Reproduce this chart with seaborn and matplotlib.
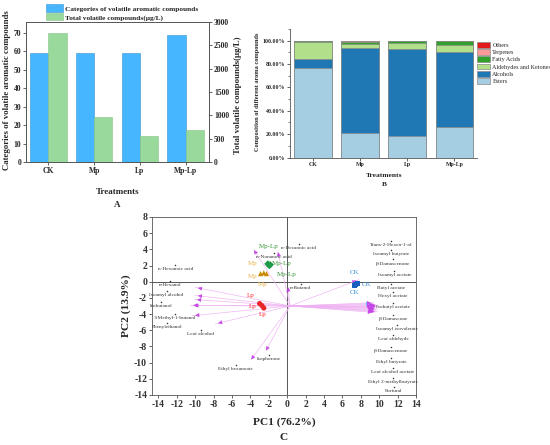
import numpy as np
import pandas as pd
import matplotlib
matplotlib.use("Agg")
import matplotlib.pyplot as plt
from matplotlib.patches import Patch
from matplotlib.ticker import PercentFormatter, MultipleLocator
import seaborn as sns

# ---- data: panel A ----
treatments = ["CK", "Mp", "Lp", "Mp-Lp"]
categories = [59, 59, 59, 69]
total_volatiles = [2770, 955, 550, 690]

# ---- data: panel B (percent composition) ----
classes = ["Esters", "Alcohols", "Aldehydes and Ketones", "Fatty Acids", "Terpenes", "Others"]
esters = [76.9, 21.4, 18.0, 26.2]
alcohols = [7.3, 72.0, 74.9, 64.1]
ald_ket = [14.9, 3.6, 4.8, 6.0]
fatty_acids = [0.6, 2.2, 1.8, 3.0]
terpenes = [0.2, 0.5, 0.3, 0.4]
others = [0.1, 0.3, 0.2, 0.3]

# ---- data: panel C (PCA biplot) ----
score_group = ["CK"] * 3 + ["Mp"] * 3 + ["Mp-Lp"] * 3 + ["Lp"] * 3
score_pc1 = [7.3, 7.45, 7.6, -2.9, -2.55, -2.25, -2.1, -1.95, -1.85, -3.0, -2.75, -2.55]
score_pc2 = [-0.5, -0.3, -0.2, 1.0, 1.1, 1.0, 2.2, 2.0, 2.1, -2.7, -2.95, -3.25]

score_label_group = ["CK", "CK", "CK", "Mp", "Mp", "Mp", "Mp-Lp", "Mp-Lp", "Mp-Lp", "Lp", "Lp", "Lp"]
score_label_x = [7.3, 8.6, 7.3, -3.8, -3.8, -2.7, -2.0, -0.6, -0.1, -4.0, -3.8, -2.7]
score_label_y = [1.2, -0.3, -1.3, 2.3, 0.7, -0.3, 4.4, 2.2, 0.9, -1.7, -3.05, -4.1]

loading_names = ["n-Hexanoic acid", "n-Hexanol", "Isoamyl alcohol", "Isobutanol",
                 "3-Methyl-1-butanol", "Phenylethanol", "Leaf alcohol", "Ethyl hexanoate",
                 "Isophorone", "n-Nonanoic acid", "n-Decanoic acid", "n-Butanol",
                 "Trans-2-Hexen-1-ol", "Isoamyl butyrate", "β-Damascenone", "Isoamyl acetate",
                 "Butyl acetate", "Hexyl acetate", "Isobutyl acetate", "β-Damascone",
                 "Isoamyl isovalerate", "Leaf aldehyde", "β-Damascenone", "Ethyl butyrate",
                 "Leaf alcohol acetate", "Ethyl 2-methylbutyrate", "Furfural"]
loading_pc1 = [-10.0, -10.0, -10.1, -10.5, -10.3, -10.4, -7.8, -3.9, -2.3, -3.6, -1.0, 0.1,
               7.8, 9.6, 9.7, 9.5, 9.3, 9.8, 9.6, 9.9, 9.5, 9.7, 9.6, 9.9, 9.4, 9.8, 9.4]
loading_pc2 = [-0.7, -1.7, -2.2, -2.9, -4.2, -2.95, -5.2, -9.6, -8.5, 3.9, 3.65, -0.7,
               0.25, -2.8, -3.0, -3.2, -2.7, -3.4, -3.6, -3.1, -3.8, -3.3, -3.5, -2.9, -3.0, -3.7, -2.6]
label_pc1 = [-12.15, -12.7, -13.1, -13.7, -12.2, -13.1, -9.4, -5.6, -2.0, -1.45, 1.25, 1.5,
             11.3, 11.3, 11.5, 11.65, 11.3, 11.5, 11.5, 11.5, 11.9, 11.5, 11.3, 11.3, 11.5, 11.5, 11.6]
label_pc2 = [1.6, -0.4, -1.7, -3.05, -4.5, -5.65, -6.5, -10.8, -9.6, 3.1, 4.2, -0.75,
             4.55, 3.4, 2.25, 0.85, -0.75, -1.8, -3.1, -4.65, -5.8, -7.1, -8.6, -9.9, -11.15, -12.4, -13.55]
arrow_origin = (0.3, -3.0)

# ---- style ----
sns.set_style("ticks")
plt.rcParams["font.family"] = ["Liberation Serif", "DejaVu Serif"]
plt.rcParams["axes.unicode_minus"] = False
plt.rcParams["axes.linewidth"] = 0.6
plt.rcParams["xtick.major.width"] = 0.5
plt.rcParams["ytick.major.width"] = 0.5
plt.rcParams["xtick.major.size"] = 2
plt.rcParams["ytick.major.size"] = 2

fig = plt.figure(figsize=(5.5, 4.45), dpi=100)
W, H = 550, 445


def box(x0, y0, x1, y1):
    return [x0 / W, 1 - y1 / H, (x1 - x0) / W, (y1 - y0) / H]


# ================= Panel A =================
blue_a = "#45B6FF"
green_a = "#99D99B"
series_names = ["Categories of volatile aromatic compounds", "Total volatile compounds(μg/L)"]
df_a = pd.DataFrame({
    "Treatment": treatments * 2,
    "Series": [series_names[0]] * 4 + [series_names[1]] * 4,
    "Categories": categories + [np.nan] * 4,
    "Total": [np.nan] * 4 + total_volatiles,
})

axA = fig.add_axes(box(26, 22, 209, 162))
sns.barplot(data=df_a, x="Treatment", y="Categories", hue="Series", hue_order=series_names,
            palette=[blue_a, green_a], saturation=1, width=0.8, edgecolor="#3a93d0",
            linewidth=0.4, legend=False, ax=axA)
axA2 = axA.twinx()
sns.barplot(data=df_a, x="Treatment", y="Total", hue="Series", hue_order=series_names,
            palette=[blue_a, green_a], saturation=1, width=0.8, edgecolor="#84c486",
            linewidth=0.4, legend=False, ax=axA2)
axA.set_xlim(-0.49, 3.51)
axA.set_ylim(0, 76)
axA2.set_ylim(0, 3000)
axA.set_yticks(range(0, 71, 10))
axA2.set_yticks(range(0, 3001, 500))
axA.set_xlabel("")
axA.set_ylabel("")
axA2.set_ylabel("")
for ax in (axA, axA2):
    ax.tick_params(labelsize=5.5, pad=1.5)
    for lab in ax.get_xticklabels() + ax.get_yticklabels():
        lab.set_fontweight("bold")
    for sp in ax.spines.values():
        sp.set_visible(True)
        sp.set_color("#555555")
fig.text(7 / W, 1 - 90 / H, "Categories of volatile aromatic compounds", rotation=90,
         ha="center", va="center", fontsize=6.3, fontweight="bold")
fig.text(238 / W, 1 - 95 / H, "Total volatile compounds(μg/L)", rotation=90,
         ha="center", va="center", fontsize=6.3, fontweight="bold")
fig.text(117.5 / W, 1 - 192 / H, "Treatments", ha="center", va="center", fontsize=6.5, fontweight="bold")
fig.text(117.5 / W, 1 - 205 / H, "A", ha="center", va="center", fontsize=6.5, fontweight="bold")
axA.legend(handles=[Patch(facecolor=blue_a, edgecolor="#3a93d0", linewidth=0.4),
                    Patch(facecolor=green_a, edgecolor="#84c486", linewidth=0.4)],
           labels=series_names, loc="lower left", bbox_to_anchor=(0.1, 1.0), frameon=False,
           prop={"size": 5.3, "weight": "bold"}, handlelength=2.3, handleheight=1.2,
           handletextpad=0.3, labelspacing=0.15, borderaxespad=0.1, borderpad=0.1)

# ================= Panel B =================
paired = sns.color_palette("Paired")[:6]
comp = np.array([esters, alcohols, ald_ket, fatty_acids, terpenes, others]) / 100.0
cum = np.cumsum(comp, axis=0)

axB = fig.add_axes(box(290, 29, 477, 157.5))
for i in range(len(classes) - 1, -1, -1):
    sns.barplot(x=treatments, y=cum[i], color=paired[i], saturation=1, width=0.8,
                edgecolor="#8a8a8a", linewidth=0.5, ax=axB)
axB.set_xlim(-0.49, 3.48)
axB.set_ylim(0, 1.1)
axB.set_yticks(np.arange(0, 1.01, 0.2))
axB.yaxis.set_minor_locator(MultipleLocator(0.1))
axB.yaxis.set_major_formatter(PercentFormatter(1.0, decimals=2))
axB.tick_params(labelsize=4.2, pad=1.5)
axB.tick_params(axis="y", which="minor", length=1.2, width=0.4)
for lab in axB.get_xticklabels() + axB.get_yticklabels():
    lab.set_fontweight("bold")
for sp in ("top", "right"):
    axB.spines[sp].set_visible(False)
for sp in ("left", "bottom"):
    axB.spines[sp].set_color("#555555")
fig.text(257 / W, 1 - 92 / H, "Composition of different aroma compounds", rotation=90,
         ha="center", va="center", fontsize=4.6, fontweight="bold")
fig.text(384 / W, 1 - 175 / H, "Treatments", ha="center", va="center", fontsize=5.4, fontweight="bold")
fig.text(384 / W, 1 - 185 / H, "B", ha="center", va="center", fontsize=5.4, fontweight="bold")
legB = [Patch(facecolor=paired[i], edgecolor="#8a8a8a", linewidth=0.5) for i in range(5, -1, -1)]
axB.legend(handles=legB, labels=classes[::-1], loc="upper left", bbox_to_anchor=(1.0, 0.9),
           frameon=False, prop={"size": 4.4}, handlelength=2.2, handleheight=1.1,
           handletextpad=0.3, labelspacing=0.2, borderaxespad=0.0, borderpad=0.0)

# ================= Panel C =================
axC = fig.add_axes(box(152, 217, 416, 395))
group_colors = {"CK": "#1a5fc0", "Mp": "#c98a00", "Mp-Lp": "#1e9a48", "Lp": "#e8262a"}
text_colors = {"CK": "#3a8fd6", "Mp": "#e8b24a", "Mp-Lp": "#3a963a", "Lp": "#ff2a2a"}
markers = {"CK": "s", "Mp": "^", "Mp-Lp": "D", "Lp": "o"}

axC.axhline(0, color="#555555", lw=0.7, zorder=1)
axC.axvline(0, color="#555555", lw=0.7, zorder=1)

# loading vectors
for lx, ly, name in zip(loading_pc1, loading_pc2, loading_names):
    axC.plot([arrow_origin[0], lx], [arrow_origin[1], ly], color="#eeb0f2", lw=0.45, zorder=2)
    head_col = "#5cc2f0" if name == "Butyl acetate" else "#c447e6"
    axC.annotate("", xy=(lx, ly),
                 xytext=(lx - 0.08 * (lx - arrow_origin[0]), ly - 0.08 * (ly - arrow_origin[1])),
                 arrowprops=dict(arrowstyle="-|>", color=head_col, lw=0.3, mutation_scale=6),
                 zorder=3)

df_load = pd.DataFrame({"x": label_pc1, "y": [v + 0.5 for v in label_pc2]})
sns.scatterplot(data=df_load, x="x", y="y", color="#333333", s=1.2, linewidth=0, ax=axC, zorder=3)
for name, lx, ly in zip(loading_names, label_pc1, label_pc2):
    axC.text(lx, ly, name, fontsize=3.9, ha="center", va="center", color="#333333", zorder=4)

df_scores = pd.DataFrame({"PC1": score_pc1, "PC2": score_pc2, "Group": score_group})
sns.scatterplot(data=df_scores, x="PC1", y="PC2", hue="Group", style="Group",
                palette=group_colors, markers=markers, s=14, linewidth=0.2,
                edgecolor="none", legend=False, ax=axC, zorder=5)
for g, lx, ly in zip(score_label_group, score_label_x, score_label_y):
    axC.text(lx, ly, g, fontsize=5, ha="center", va="center", color=text_colors[g], zorder=6)

axC.set_xlim(-14.7, 13.9)
axC.set_ylim(-14, 8)
axC.set_xticks(range(-14, 15, 2))
axC.set_yticks(range(-14, 9, 2))
axC.set_xlabel("")
axC.set_ylabel("")
axC.tick_params(labelsize=7, pad=1.5)
for lab in axC.get_xticklabels() + axC.get_yticklabels():
    lab.set_fontweight("bold")
    lab.set_color("#333333")
for sp in axC.spines.values():
    sp.set_visible(True)
    sp.set_color("#555555")
fig.text(284 / W, 1 - 422 / H, "PC1 (76.2%)", ha="center", va="center", fontsize=8.2, fontweight="bold")
fig.text(284 / W, 1 - 437 / H, "C", ha="center", va="center", fontsize=8.2, fontweight="bold")
fig.text(126 / W, 1 - 306 / H, "PC2 (13.9%)", rotation=90, ha="center", va="center",
         fontsize=8.2, fontweight="bold")

fig.savefig("out.png", dpi=100)
